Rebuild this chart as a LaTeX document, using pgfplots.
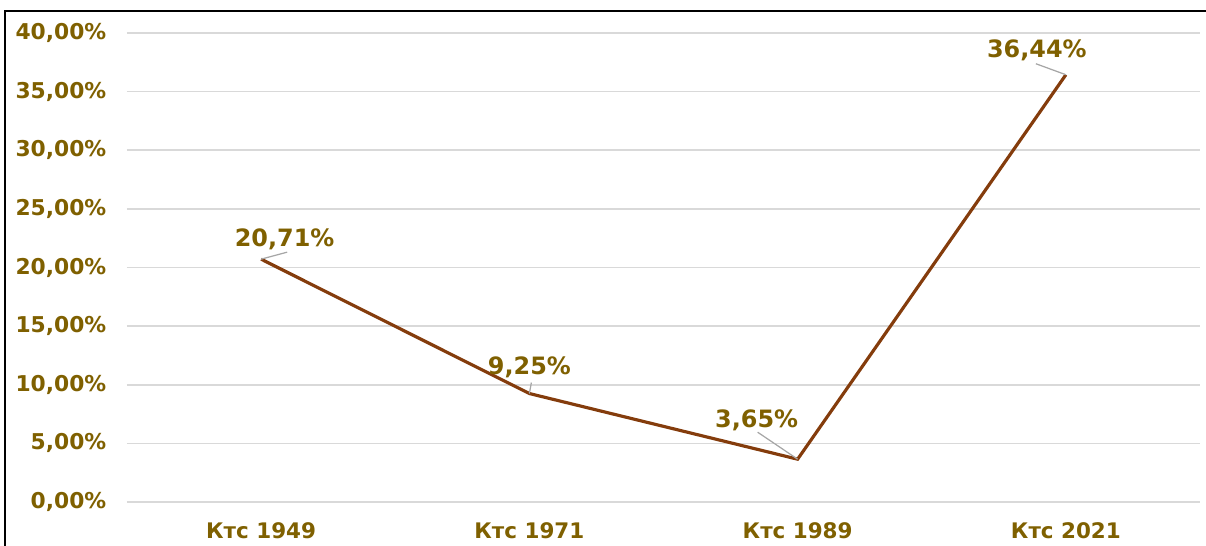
\documentclass[border=0pt]{standalone}
\usepackage{fontspec}
\setmainfont{DejaVu Sans}
\usepackage{pgfplots}
\pgfplotsset{compat=1.18}
\definecolor{txt}{RGB}{127,96,0}
\definecolor{ln}{RGB}{132,60,12}
\definecolor{grd}{RGB}{217,217,217}
\definecolor{lead}{RGB}{166,166,166}
\begin{document}
\begin{tikzpicture}
\useasboundingbox (0,0) rectangle (12.06cm,5.46cm);
\begin{axis}[
  at={(1.27cm,0.44cm)}, anchor=south west,
  scale only axis, width=10.73cm, height=4.69cm,
  xmin=-0.5, xmax=3.5, ymin=0, ymax=40,
  axis line style={draw=none},
  major tick length=0pt,
  xtick={0,1,2,3},
  xticklabels={Ктс 1949,Ктс 1971,Ктс 1989,Ктс 2021},
  ytick={0,5,10,15,20,25,30,35,40},
  yticklabels={{0,00\%},{5,00\%},{10,00\%},{15,00\%},{20,00\%},{25,00\%},{30,00\%},{35,00\%},{40,00\%}},
  ymajorgrids, major grid style={grd, line width=0.45pt},
  yticklabel style={inner sep=0pt, anchor=east, xshift=-0.2cm, text=txt, font=\fontsize{6.2}{7}\selectfont\bfseries},
  xticklabel style={inner sep=0pt, anchor=north, yshift=-0.2cm, text=txt, font=\fontsize{6.1}{7}\selectfont\bfseries},
  clip=false,
]
\addplot[ln, line width=0.9pt, mark=none] coordinates {(0,20.71) (1,9.25) (2,3.65) (3,36.44)};
\draw[lead, line width=0.35pt] (axis cs:0,20.71) -- ++(0.26cm,0.07cm);
\draw[lead, line width=0.35pt] (axis cs:1,9.25) -- ++(0.02cm,0.11cm);
\draw[lead, line width=0.35pt] (axis cs:2,3.65) -- ++(-0.40cm,0.27cm);
\draw[lead, line width=0.35pt] (axis cs:3,36.44) -- ++(-0.30cm,0.11cm);
\tikzset{lbl/.style={anchor=base, inner sep=0pt, text=txt, font=\fontsize{6.8}{8}\selectfont\bfseries}}
\node[lbl] at ([xshift=0.235cm,yshift=0.13cm]axis cs:0,20.71) {20,71\%};
\node[lbl] at ([xshift=0cm,yshift=0.19cm]axis cs:1,9.25) {9,25\%};
\node[lbl] at ([xshift=-0.41cm,yshift=0.32cm]axis cs:2,3.65) {3,65\%};
\node[lbl] at ([xshift=-0.29cm,yshift=0.177cm]axis cs:3,36.44) {36,44\%};
\end{axis}
\draw[black, line width=0.55pt] (0.05cm,0) -- (0.05cm,5.35cm) -- (12.06cm,5.35cm);
\end{tikzpicture}
\end{document}
